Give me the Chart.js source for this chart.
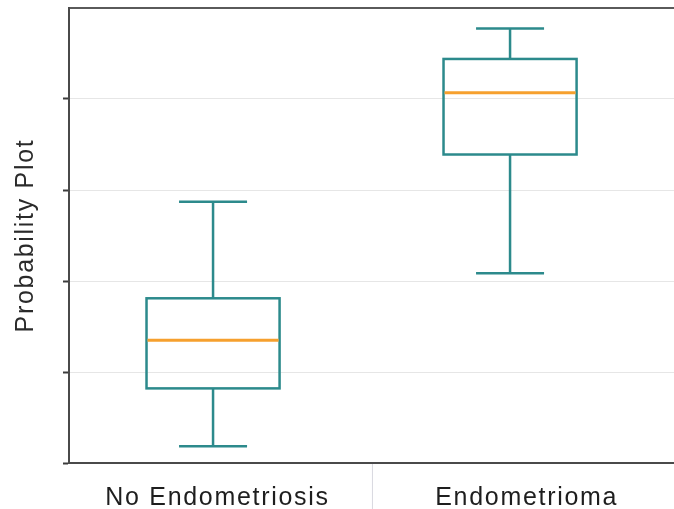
<!DOCTYPE html>
<html>
<head>
<meta charset="utf-8">
<script src="https://cdn.jsdelivr.net/npm/chart.js@4"></script>
<style>
  html, body { margin: 0; padding: 0; background: #fff; overflow: hidden; }
  #wrap { width: 674px; height: 509px; }
</style>
</head>
<body>
<div id="wrap"><canvas id="myChart"></canvas></div>
<script>
var categories = ["No Endometriosis", "Endometrioma"];
var mins    = [0.037, 0.417];
var q1s     = [0.164, 0.678];
var medians = [0.270, 0.814];
var q3s     = [0.362, 0.888];
var maxs    = [0.574, 0.955];
var yTicks  = [0, 0.2, 0.4, 0.6, 0.8, 1];

var teal = "#2c8a8c";
var orange = "#f6a02e";

// wider text spacing, like the reference font
var spacingPlugin = {
  id: "spacing",
  beforeDraw: function (chart) { chart.ctx.letterSpacing = "1.7px"; }
};

// box plot drawn through the chart's own scales
var boxPlugin = {
  id: "boxes",
  afterDatasetsDraw: function (chart) {
    var ctx = chart.ctx, x = chart.scales.x, y = chart.scales.y;
    var boxW = 0.448, capW = 0.229;
    ctx.save();
    ctx.lineCap = "butt";
    categories.forEach(function (c, i) {
      var cx = x.getPixelForValue(i);
      var bl = x.getPixelForValue(i - boxW / 2), br = x.getPixelForValue(i + boxW / 2);
      var cl = x.getPixelForValue(i - capW / 2), cr = x.getPixelForValue(i + capW / 2);
      var pMin = y.getPixelForValue(mins[i]), pQ1 = y.getPixelForValue(q1s[i]);
      var pMed = y.getPixelForValue(medians[i]), pQ3 = y.getPixelForValue(q3s[i]);
      var pMax = y.getPixelForValue(maxs[i]);
      ctx.strokeStyle = teal;
      ctx.lineWidth = 2.5;
      ctx.beginPath();
      ctx.moveTo(cx, pMax); ctx.lineTo(cx, pQ3);
      ctx.moveTo(cx, pQ1); ctx.lineTo(cx, pMin);
      ctx.moveTo(cl, pMax); ctx.lineTo(cr, pMax);
      ctx.moveTo(cl, pMin); ctx.lineTo(cr, pMin);
      ctx.stroke();
      ctx.strokeRect(bl, pQ3, br - bl, pQ1 - pQ3);
      ctx.strokeStyle = orange;
      ctx.lineWidth = 3;
      ctx.beginPath();
      ctx.moveTo(bl + 1, pMed); ctx.lineTo(br - 1, pMed);
      ctx.stroke();
    });
    // category divider below the axis
    var dx = x.getPixelForValue(0.535);
    ctx.strokeStyle = "#d8d8e0";
    ctx.lineWidth = 1;
    ctx.beginPath();
    ctx.moveTo(dx + 0.5, chart.chartArea.bottom + 1);
    ctx.lineTo(dx + 0.5, chart.height);
    ctx.stroke();
    ctx.restore();
  }
};

new Chart("myChart", {
  type: "scatter",
  data: {
    datasets: [{
      data: medians.map(function (m, i) { return {x: i, y: m}; }),
      pointRadius: 0
    }]
  },
  plugins: [spacingPlugin, boxPlugin],
  options: {
    responsive: true,
    maintainAspectRatio: false,
    animation: false,
    layout: {padding: {top: 8, right: 0, left: 0, bottom: 0}},
    plugins: {legend: {display: false}, tooltip: {enabled: false}},
    scales: {
      x: {
        type: "linear",
        min: -0.485,
        max: 1.552,
        afterFit: function (s) { s.height = 46; },
        afterBuildTicks: function (s) {
          s.ticks = [{value: 0.015}, {value: 1.056}];
        },
        border: {display: true, color: "#4a4a4a", width: 2},
        grid: {display: false, drawTicks: false},
        ticks: {
          autoSkip: false,
          maxRotation: 0,
          padding: 20,
          color: "#1e1e1e",
          font: {family: "Liberation Sans, Arial, sans-serif", size: 25},
          callback: function (v, i) { return categories[i]; }
        }
      },
      y: {
        min: 0,
        max: 1,
        afterFit: function (s) { s.width = 69; },
        afterBuildTicks: function (s) {
          s.ticks = yTicks.map(function (v) { return {value: v}; });
        },
        border: {display: true, color: "#4a4a4a", width: 2},
        grid: {
          color: function (c) {
            if (c.tick.value === 1) return "#5a5a5a";
            if (c.tick.value === 0) return "rgba(0,0,0,0)";
            return "#e6e6e6";
          },
          lineWidth: function (c) { return c.tick.value === 1 ? 2 : 1; },
          tickLength: 6,
          tickColor: function (c) {
            return c.tick.value === 1 ? "rgba(0,0,0,0)" : "#3c3c3c";
          },
          tickWidth: 2
        },
        ticks: {display: false},
        title: {
          display: true,
          text: "Probability Plot",
          color: "#2a2a2a",
          font: {family: "Liberation Sans, Arial, sans-serif", size: 25},
          padding: {top: 11, bottom: 0}
        }
      }
    }
  }
});
</script>
</body>
</html>
